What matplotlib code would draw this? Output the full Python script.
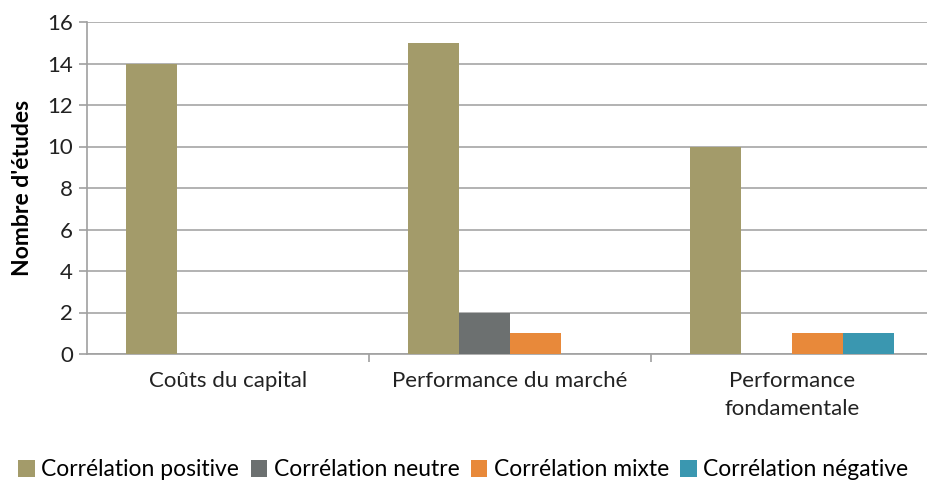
import numpy as np
import matplotlib
matplotlib.use("Agg")
import matplotlib.pyplot as plt

# Data
categories = ["Coûts du capital", "Performance du marché", "Performance\nfondamentale"]
series_names = ["Corrélation positive", "Corrélation neutre", "Corrélation mixte", "Corrélation négative"]
positive = [14, 15, 10]
neutral = [0, 2, 0]
mixed = [0, 1, 1]
negative = [0, 0, 1]
colors = ["#A39B6A", "#6C7070", "#E8893A", "#3A97B0"]

plt.rcParams["font.family"] = ["Lato", "DejaVu Sans"]

fig = plt.figure(figsize=(9.27, 4.82), dpi=100)
ax = fig.add_axes([87 / 927, 1 - 354 / 482, 846 / 927, 332 / 482])

x = np.arange(len(categories))
width = 0.181
all_series = [positive, neutral, mixed, negative]
for i, (vals, name, col) in enumerate(zip(all_series, series_names, colors)):
    offset = (i - 1.5) * width
    ax.bar(x + offset, vals, width, color=col, label=name, zorder=3)

ax.set_xlim(-0.5, 2.5)
ax.set_ylim(0, 16)
ax.set_yticks(range(0, 17, 2))
ax.yaxis.grid(True, color="#A6A6A6", linewidth=1.2, zorder=0)
ax.set_axisbelow(True)

# category labels centred, ticks on the group boundaries
ax.set_xticks(x)
ax.set_xticklabels(categories, fontsize=16, color="#222222", linespacing=1.5)
ax.tick_params(axis="x", which="major", length=0, pad=12)
ax.set_xticks([0.5, 1.5], minor=True)
ax.tick_params(axis="x", which="minor", length=6, width=1.2, color="#A0A0A0", direction="out")
ax.tick_params(axis="y", length=6, width=1.2, color="#A0A0A0", labelsize=16, labelcolor="#222222", pad=4)

for side in ["top", "right"]:
    ax.spines[side].set_visible(False)
for side in ["left", "bottom"]:
    ax.spines[side].set_color("#A0A0A0")
    ax.spines[side].set_linewidth(1.2)

ax.set_ylabel("Nombre d'études", fontsize=16.5, fontweight="bold", labelpad=10)

fig.legend(loc="center", bbox_to_anchor=(0.5, 1 - 470 / 482), ncol=4, frameon=False,
           fontsize=16.5, handlelength=0.7, handleheight=0.7, handletextpad=0.3,
           columnspacing=0.5)

fig.savefig("out.png", dpi=100)
plt.close(fig)
